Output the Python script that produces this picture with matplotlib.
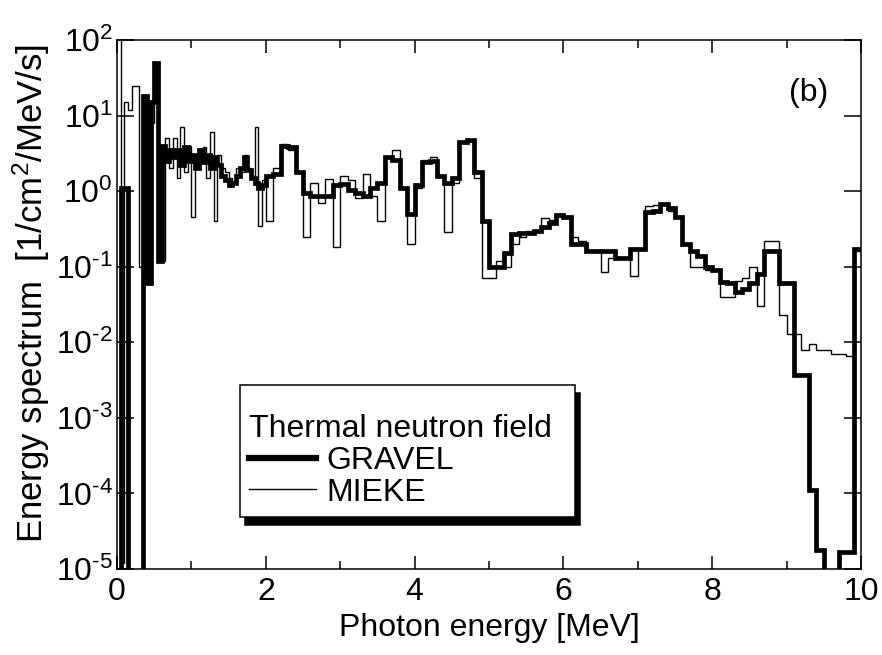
import numpy as np
import matplotlib
matplotlib.use("Agg")
import matplotlib.pyplot as plt
from matplotlib.lines import Line2D
from matplotlib.patches import Rectangle

plt.rcParams["font.family"] = ["Liberation Sans", "DejaVu Sans"]
plt.rcParams["mathtext.fontset"] = "custom"
plt.rcParams["mathtext.rm"] = "Liberation Sans"
plt.rcParams["mathtext.it"] = "Liberation Sans:italic"

# bin edges: 0.05 MeV wide below 2 MeV, 0.1 MeV wide above
edges = np.round(np.concatenate([np.arange(0, 2, 0.05), np.arange(2, 10.001, 0.1)]), 3)

# spectra [1/cm2/MeV/s], one value per bin
gravel_low = [1e-6, 1.1, 1.1, 1e-6, 1e-6, 1e-6, 1e-6, 18, 0.06, 15,
              50, 0.12, 4.0, 2.5, 3.5, 2.8, 3.5, 2.2, 3.8, 2.5,
              3.0, 2.0, 3.5, 2.4, 3.0, 2.0, 2.8, 2.2, 1.6, 1.4,
              1.2, 1.3, 1.6, 2.0, 2.8, 1.9, 1.5, 1.3, 1.1, 1.2]
gravel_high = [1.6, 1.7, 4.0, 3.8, 1.8, 0.95, 0.85, 0.85, 0.85, 1.2,
               1.25, 1.05, 0.95, 0.85, 1.1, 1.3, 2.8, 2.6, 1.1, 0.5,
               1.2, 2.4, 2.5, 1.6, 1.3, 1.5, 4.5, 4.7, 1.8, 0.4,
               0.1, 0.1, 0.15, 0.27, 0.28, 0.28, 0.3, 0.34, 0.38, 0.48,
               0.45, 0.2, 0.2, 0.16, 0.16, 0.16, 0.16, 0.13, 0.13, 0.17,
               0.17, 0.53, 0.55, 0.68, 0.6, 0.45, 0.2, 0.16, 0.14, 0.1,
               0.09, 0.063, 0.06, 0.047, 0.05, 0.06, 0.08, 0.16, 0.16, 0.06,
               0.06, 0.0037, 0.0037, 1.1e-4, 1.8e-5, 1e-6, 1e-6, 1.7e-5, 1.7e-5, 0.17]

mieke_low = [300, 1.2e-5, 15, 12, 25, 25, 0.1, 10, 0.3, 8,
             30, 4.0, 0.12, 5.0, 2.0, 5.0, 1.5, 7.0, 1.8, 4.0,
             0.45, 3.0, 2.5, 3.8, 1.5, 6.0, 0.4, 3.0, 2.0, 1.8,
             1.5, 1.3, 2.0, 1.8, 3.0, 2.0, 1.6, 7.0, 0.35, 1.4]
mieke_high = [0.4, 2.0, 4.2, 3.5, 1.8, 0.25, 1.3, 0.7, 1.45, 0.18,
              1.6, 1.4, 0.8, 1.7, 0.85, 0.4, 2.8, 3.5, 1.1, 0.2,
              1.1, 2.6, 2.85, 1.6, 0.29, 1.3, 4.5, 4.8, 1.5, 0.07,
              0.07, 0.12, 0.1, 0.2, 0.25, 0.3, 0.3, 0.44, 0.42, 0.5,
              0.45, 0.25, 0.22, 0.16, 0.16, 0.085, 0.13, 0.13, 0.13, 0.075,
              0.17, 0.63, 0.65, 0.7, 0.55, 0.45, 0.2, 0.1, 0.1, 0.09,
              0.09, 0.04, 0.04, 0.065, 0.07, 0.1, 0.03, 0.22, 0.22, 0.023,
              0.013, 0.013, 0.008, 0.0095, 0.008, 0.008, 0.007, 0.007, 0.0066, 0.16]

gravel = np.array(gravel_low + gravel_high)
mieke = np.array(mieke_low + mieke_high)

fig = plt.figure(figsize=(8.82, 6.55), dpi=100)
ax = fig.add_axes([0.1327, 0.1313, 0.8435, 0.8076])

ax.stairs(mieke, edges, baseline=None, color="black", lw=1.0)
ax.stairs(gravel, edges, baseline=None, color="black", lw=3.4)

ax.set_yscale("log")
ax.set_xlim(0, 10)
ax.set_ylim(1e-5, 1e2)
ax.set_xticks(range(0, 11, 2))
ax.set_xticks(range(1, 10, 2), minor=True)
ax.set_yticks([10.0 ** k for k in range(-5, 3)])
ylabels = []
for k in range(-5, 3):
    if k < 0:
        ylabels.append(r"$\mathregular{10^{\text{-}%d}}$" % (-k))
    else:
        ylabels.append(r"$\mathregular{10^{%d}}$" % k)
ax.set_yticklabels(ylabels)
ax.yaxis.set_minor_locator(matplotlib.ticker.NullLocator())

for s in ax.spines.values():
    s.set_linewidth(1.1)
ax.tick_params(axis="both", which="both", direction="in", top=True, right=True,
               width=1.1, labelsize=23)
ax.tick_params(axis="x", which="major", length=9.4, pad=6)
ax.tick_params(axis="x", which="minor", length=5.8)
ax.tick_params(axis="y", which="major", length=12, pad=3)

ax.set_xlabel("Photon energy [MeV]", fontsize=23, labelpad=4)
ax.set_ylabel(r"Energy spectrum  [1/cm$^2$/MeV/s]", fontsize=25)
ax.yaxis.set_label_coords(-0.087, 0.52)

ax.text(0.929, 0.90, "(b)", transform=ax.transAxes, fontsize=23,
        ha="center", va="center")

# legend box with a solid black drop shadow
ax.add_patch(Rectangle((0.172, 0.083), 0.4507, 0.249, transform=ax.transAxes,
                       facecolor="black", edgecolor="black", lw=1.1,
                       zorder=4, clip_on=False))
ax.add_patch(Rectangle((0.1653, 0.098), 0.4507, 0.249, transform=ax.transAxes,
                       facecolor="white", edgecolor="black", lw=1.1,
                       zorder=4.5, clip_on=False))

handles = [Line2D([], [], color="black", lw=4.5), Line2D([], [], color="black", lw=1.0)]
leg = ax.legend(handles, ["GRAVEL", "MIEKE"], title="Thermal neutron field",
                title_fontsize=23, fontsize=23, loc="lower left",
                bbox_to_anchor=(0.165, 0.098), borderaxespad=0, frameon=False,
                alignment="left", handlelength=2.1, handletextpad=0.3,
                labelspacing=0.05, borderpad=0.3)
leg.set_zorder(5)

fig.savefig("out.png", dpi=100)
